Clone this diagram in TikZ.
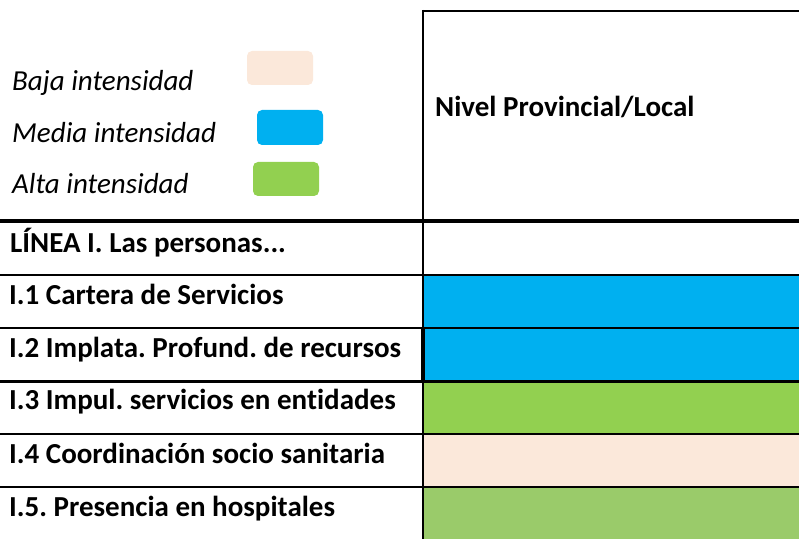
\documentclass[tikz,border=0pt]{standalone}
\usepackage{fontspec}
\setmainfont[Ligatures={NoCommon}]{Carlito}
\frenchspacing
\definecolor{cblue}{HTML}{00B0F0}
\definecolor{cgreen}{HTML}{92D050}
\definecolor{cgreentwo}{HTML}{9ACB6A}
\definecolor{cpeach}{HTML}{FBE8DA}
\tikzset{
  rowtext/.style={anchor=base west, inner sep=0pt, font=\fontsize{29bp}{34bp}\selectfont\bfseries},
  legtext/.style={anchor=base west, inner sep=0pt, font=\fontsize{29bp}{34bp}\selectfont\itshape},
  legbox/.style={rounded corners=5bp},
  thinrule/.style={line width=2.3bp},
  thickrule/.style={line width=3.8bp},
}
\begin{document}
\begin{tikzpicture}[x=1bp,y=-1bp]
\useasboundingbox (0,0) rectangle (799,539);
% cell fills
\fill[cblue] (424,275) rectangle (799,328);
\fill[cblue] (424,328) rectangle (799,381.5);
\fill[cgreen] (424,381.5) rectangle (799,434);
\fill[cpeach] (424,434) rectangle (799,487.3);
\fill[cgreentwo] (424,487.3) rectangle (799,539);
% legend
\node[legtext] (lbaja) at (12,90.5) {Baja intensidad};
\node[legtext] (lmedia) at (12,142.5) {Media intensidad};
\node[legtext] (lalta) at (12,194) {Alta intensidad};
\fill[cpeach,legbox] (247,51) rectangle (313,85);
\fill[cblue,legbox] (257,110) rectangle (323,145);
\fill[cgreen,legbox] (253,162) rectangle (319,196);
% header
\node[rowtext] (head) at (435,117) {Nivel Provincial/Local};
% rows
\node[rowtext] (r0) at (10,253) {LÍNEA I. Las personas...};
\node[rowtext] (r1) at (9,305) {I.1 Cartera de Servicios};
\node[rowtext] (r2) at (9,357.3) {I.2 Implata. Profund. de recursos};
\node[rowtext] (r3) at (9,409.3) {I.3 Impul. servicios en entidades};
\node[rowtext] (r4) at (9,463) {I.4 Coordinación socio sanitaria};
\node[rowtext] (r5) at (9,516) {I.5. Presencia en hospitales};
% rules
\draw[thinrule] (423,11) -- (799,11);
\draw[thinrule] (423,10) -- (423,539);
\draw[thickrule] (0,220.7) -- (799,220.7);
\foreach \yy in {275,328,381.5,434,487.3} {
  \draw[thinrule] (0,\yy) -- (799,\yy);
}
\draw[line width=4bp] (422.7,328) -- (422.7,381.5);
\end{tikzpicture}
\end{document}
